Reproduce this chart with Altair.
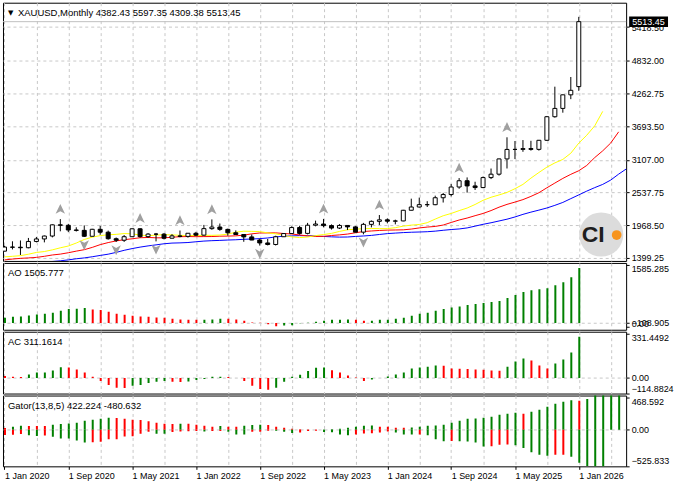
import json
import altair as alt
import pandas as pd

FONT = "Liberation Sans"
GREEN = "#008000"
RED = "#ff0000"
GRID = "#c8c8c8"

symbol = "XAUUSD,Monthly"
tick_labels = ["1 Jan 2020", "1 Sep 2020", "1 May 2021", "1 Jan 2022", "1 Sep 2022",
               "1 May 2023", "1 Jan 2024", "1 Sep 2024", "1 May 2025", "1 Jan 2026"]

# Monthly OHLC, Jan 2020 .. Jan 2026
opens = [1517.3, 1589.2, 1586.0, 1577.2, 1686.5, 1730.3, 1780.9, 1975.9, 1967.8, 1886.0, 1879.4, 1776.6,
         1898.4, 1847.7, 1734.0, 1707.7, 1769.1, 1906.9, 1770.4, 1814.2, 1813.6, 1742.9, 1783.3, 1774.4,
         1829.2, 1796.3, 1909.6, 1937.4, 1896.9, 1837.4, 1807.3, 1765.9, 1711.0, 1660.6, 1633.6, 1768.5,
         1824.0, 1928.4, 1826.9, 1969.3, 1990.0, 1962.6, 1919.4, 1965.1, 1940.2, 1848.6, 1983.9, 2036.4,
         2062.6, 2039.5, 2043.9, 2229.7, 2286.3, 2327.3, 2326.5, 2447.6, 2503.4, 2634.6, 2743.6, 2653.4,
         2624.6, 2798.4, 2857.8, 3123.6, 3288.7, 3289.4, 3303.1, 3289.9, 3447.9, 3858.3, 4002.9, 4239.4,
         4382.43]
highs = [1611.3, 1689.3, 1703.4, 1747.7, 1765.4, 1789.2, 1983.8, 2075.1, 1992.5, 1933.3, 1965.6, 1906.3,
         1959.3, 1875.4, 1755.6, 1798.2, 1912.9, 1916.8, 1832.7, 1834.1, 1834.0, 1813.8, 1877.2, 1831.6,
         1853.9, 1974.4, 2070.4, 1998.4, 1909.8, 1879.4, 1814.3, 1807.9, 1735.2, 1729.5, 1786.3, 1833.0,
         1949.3, 1959.7, 2009.7, 2048.8, 2079.6, 1983.5, 1987.5, 1966.1, 1953.1, 2009.3, 2052.1, 2146.8,
         2088.5, 2065.6, 2236.5, 2431.5, 2450.1, 2387.8, 2483.6, 2531.6, 2685.6, 2790.2, 2801.6, 2726.1,
         2817.2, 2956.2, 3128.0, 3500.1, 3435.5, 3451.9, 3439.0, 3453.9, 3871.6, 4381.3, 4245.3, 4549.7,
         5597.35]
lows = [1517.0, 1547.8, 1451.0, 1567.0, 1670.6, 1670.6, 1757.5, 1863.2, 1848.8, 1859.9, 1764.5, 1775.7,
        1802.8, 1717.2, 1676.9, 1678.3, 1765.5, 1750.8, 1750.1, 1687.7, 1721.7, 1740.0, 1758.9, 1753.4,
        1780.5, 1786.0, 1890.0, 1872.1, 1787.0, 1805.2, 1681.0, 1709.7, 1614.9, 1617.3, 1616.7, 1765.2,
        1823.7, 1804.7, 1809.5, 1949.4, 1932.2, 1893.1, 1902.8, 1884.9, 1846.0, 1810.5, 1931.7, 1973.1,
        2001.9, 1984.2, 2038.4, 2228.0, 2277.2, 2286.7, 2318.0, 2364.4, 2471.8, 2604.1, 2536.7, 2583.0,
        2614.6, 2772.5, 2833.0, 2956.9, 3120.8, 3247.6, 3268.1, 3268.3, 3436.2, 3842.0, 3928.6, 4164.0,
        4309.38]
closes = [1589.2, 1585.7, 1577.2, 1686.5, 1730.3, 1780.9, 1975.9, 1967.8, 1886.0, 1879.4, 1776.6, 1898.4,
          1847.7, 1734.0, 1707.7, 1769.1, 1906.9, 1770.4, 1814.2, 1813.6, 1742.9, 1783.3, 1774.4, 1829.2,
          1796.3, 1909.6, 1937.4, 1896.9, 1837.4, 1807.3, 1765.9, 1711.0, 1660.6, 1633.6, 1768.5, 1824.0,
          1928.4, 1826.9, 1969.3, 1990.0, 1962.6, 1919.4, 1965.1, 1940.2, 1848.6, 1983.9, 2036.4, 2062.6,
          2039.5, 2043.9, 2229.7, 2286.3, 2327.3, 2326.5, 2447.6, 2503.4, 2634.6, 2743.6, 2653.4, 2624.6,
          2798.4, 2857.8, 3123.6, 3288.7, 3289.4, 3303.1, 3289.9, 3447.9, 3858.3, 4002.9, 4239.4, 4318.0,
          5513.45]

# Alligator lines (already shifted onto the bar index)
lips = [1418, 1428, 1439, 1464, 1495, 1511, 1540, 1576, 1607, 1659, 1721, 1761, 1788, 1803, 1810, 1824,
        1819, 1798, 1786, 1797, 1804, 1801, 1793, 1790, 1788, 1794, 1793, 1798, 1814, 1848, 1865, 1862,
        1858, 1836, 1820, 1791, 1767, 1754, 1763, 1788, 1806, 1827, 1861, 1890, 1900, 1909, 1912, 1910,
        1910, 1926, 1953, 1971, 1982, 2013, 2076, 2134, 2174, 2223, 2268, 2330, 2403, 2456, 2496, 2540,
        2605, 2680, 2789, 2887, 2980, 3054, 3115, 3223, 3399, 3536, 3700, 3951]
teeth = [1365, 1380, 1392, 1400, 1409, 1428, 1451, 1466, 1490, 1518, 1543, 1583, 1631, 1667, 1696, 1717,
         1733, 1751, 1756, 1750, 1749, 1760, 1769, 1772, 1770, 1771, 1772, 1778, 1780, 1784, 1796, 1819,
         1834, 1835, 1836, 1825, 1817, 1799, 1783, 1773, 1776, 1790, 1801, 1815, 1838, 1859, 1869, 1878,
         1884, 1886, 1889, 1902, 1922, 1937, 1948, 1972, 2017, 2060, 2094, 2135, 2174, 2224, 2283, 2332,
         2372, 2415, 2471, 2535, 2621, 2703, 2784, 2855, 2918, 3010, 3147, 3264, 3400, 3595]
jaw = [1265, 1272, 1283, 1298, 1313, 1327, 1338, 1349, 1366, 1385, 1400, 1420, 1443, 1465, 1496, 1532,
       1562, 1588, 1609, 1627, 1646, 1658, 1662, 1668, 1681, 1693, 1700, 1705, 1711, 1716, 1724, 1729,
       1736, 1747, 1765, 1778, 1783, 1788, 1785, 1783, 1774, 1767, 1762, 1764, 1774, 1782, 1792, 1808,
       1823, 1832, 1841, 1847, 1851, 1856, 1866, 1881, 1894, 1904, 1922, 1953, 1985, 2012, 2043, 2074,
       2113, 2158, 2197, 2232, 2269, 2315, 2366, 2432, 2497, 2563, 2624, 2680, 2755, 2859, 2953, 3061]

ao = [144, 171, 180, 207, 234, 252, 279, 333, 387, 390, 414, 369, 360, 306, 252, 225, 198, 180, 171, 153,
      144, 117, 99, 90, 88, 92, 99, 120, 117, 95, 63, 15, 8, -30, -85, -70, -60, -8, 5, 36,
      63, 90, 92, 95, 88, 63, 66, 90, 92, 117, 144, 198, 252, 279, 333, 387, 423, 450, 495, 521,
      548, 575, 602, 683, 764, 845, 899, 926, 953, 1034, 1115, 1250, 1505.777]
ac = [15, 8, 7, 25, 40, 41, 55, 80, 78, 63, 40, 8, -23, -53, -75, -76, -60, -53, -38, -30,
      -23, -30, -31, -28, -15, -8, 8, 9, 7, -1, -23, -60, -83, -90, -75, -30, 8, 23, 53, 77,
      79, 58, 40, 18, 3, -23, -13, 0, 10, 25, 40, 70, 78, 85, 93, 92, 70, 69, 68, 63,
      62, 55, 54, 85, 123, 146, 131, 93, 70, 108, 138, 191, 311.1614]
gator_up = [24, 43, 58, 56, 55, 54, 72, 85, 90, 101, 130, 145, 159, 174, 172, 159, 145, 140, 125, 101,
            87, 85, 88, 86, 72, 58, 45, 55, 45, 42, 58, 70, 74, 70, 45, 30, 16, 6, 4, 3,
            4, 6, 14, 29, 43, 58, 60, 45, 42, 30, 28, 32, 43, 58, 60, 72, 101, 130, 159, 162,
            174, 188, 217, 232, 246, 232, 261, 290, 333, 377, 406, 430, 422.224, 447, 523, 584, 645, 736]
gator_dn = [77, 72, 63, 82, 92, 85, 101, 126, 128, 155, 184, 182, 175, 140, 138, 97, 95, 58, 30, 58,
            60, 34, 24, 22, 19, 24, 19, 18, 30, 68, 70, 29, 28, 14, 15, 29, 48, 40, 20, 14,
            34, 36, 68, 82, 68, 53, 50, 39, 24, 39, 68, 70, 68, 82, 140, 169, 165, 169, 172, 184,
            242, 240, 220, 215, 227, 266, 328, 362, 377, 365, 362, 391, 480.632, 526, 553, 687]

fractal_up_idx = [7, 17, 22, 26, 40, 47, 57, 63]
fractal_dn_idx = [10, 14, 19, 32, 45]

price_ticks = [1399.25, 1968.50, 2537.75, 3107.00, 3693.50, 4262.75, 4832.00, 5418.50]
ao_ticks = [1585.285, 0, -108.905]
ac_ticks = [331.4492, 0, -114.8824]
gator_ticks = [468.592, 0, -525.833]


def signed_colors(vals, first):
    out = [first]
    for k in range(1, len(vals)):
        out.append(GREEN if vals[k] >= vals[k - 1] else RED)
    return out


def abs_colors(vals, first):
    out = [first]
    for k in range(1, len(vals)):
        out.append(GREEN if abs(vals[k]) >= abs(vals[k - 1]) else RED)
    return out


n = len(closes)
candles = pd.DataFrame({"i": list(range(n)), "o": opens, "h": highs, "l": lows, "c": closes})
candles["fill"] = ["white" if c >= o else "black" for o, c in zip(opens, closes)]

lips_df = pd.DataFrame({"i": list(range(len(lips))), "v": lips})
teeth_df = pd.DataFrame({"i": list(range(len(teeth))), "v": teeth})
jaw_df = pd.DataFrame({"i": list(range(len(jaw))), "v": jaw})
fup_df = pd.DataFrame({"i": fractal_up_idx, "v": [highs[k] for k in fractal_up_idx]})
fdn_df = pd.DataFrame({"i": fractal_dn_idx, "v": [lows[k] for k in fractal_dn_idx]})
bid_df = pd.DataFrame({"v": [closes[-1]], "t": [f"{closes[-1]:.2f}"]})

ao_df = pd.DataFrame({"i": list(range(len(ao))), "v": ao, "col": signed_colors(ao, GREEN)})
ac_df = pd.DataFrame({"i": list(range(len(ac))), "v": ac, "col": signed_colors(ac, RED)})
gu_df = pd.DataFrame({"i": list(range(len(gator_up))), "v": gator_up, "col": abs_colors(gator_up, RED)})
gd_df = pd.DataFrame({"i": list(range(len(gator_dn))), "v": [-v for v in gator_dn],
                      "col": abs_colors(gator_dn, RED)})

W = 625
XDOM = [-0.1875, 77.9375]
grid_vals = list(range(0, 77, 4))


def X(bottom=False):
    if bottom:
        label_expr = ("datum.value % 8 == 0 ? " + json.dumps(tick_labels) +
                      "[round(datum.value / 8)] : ''")
        axis = alt.Axis(values=grid_vals, grid=True, labels=True, ticks=True, tickSize=3,
                        tickOpacity={"condition": {"test": "datum.value % 8 == 0", "value": 1}, "value": 0},
                        labelExpr=label_expr, labelAlign="left", labelPadding=2, labelOverlap=False,
                        labelFlush=False, domain=False, title=None)
    else:
        axis = alt.Axis(values=grid_vals, grid=True, labels=False, ticks=False, domain=False, title=None)
    return alt.X("i:Q", scale=alt.Scale(domain=XDOM, nice=False, zero=False, padding=0), axis=axis)


zero_grid = {"condition": {"test": "datum.value == 0", "value": 1}, "value": 0}
baseline_cond = {"condition": [{"test": "datum.value > 0", "value": "top"},
                               {"test": "datum.value < 0", "value": "bottom"}],
                 "value": "middle"}

main_scale = alt.Scale(domain=[1347.2, 5843.4], nice=False, zero=False, padding=0)
main_axis = alt.Axis(orient="right", values=price_ticks, format=".2f", grid=True, tickSize=3,
                     labelPadding=2, labelOverlap=False, domain=False, title=None)


def YM(field):
    return alt.Y(field, type="quantitative", scale=main_scale, axis=main_axis)


one = pd.DataFrame({"a": [0]})
BOX = "M-1,-0.27L1,-0.27L1,0.27L-1,0.27Z"
UP = "M0,-1L0.9,0.9L0,0.4L-0.9,0.9Z"
DN = "M0,1L0.9,-0.9L0,-0.4L-0.9,-0.9Z"

logo_circle = alt.Chart(one).mark_point(shape="circle", filled=True, size=1963, color="#dcdcdc",
                                        opacity=1, strokeWidth=0).encode(x=alt.value(600), y=alt.value(232.5))
logo_text = alt.Chart(one).mark_text(font=FONT, fontSize=23, fontWeight="bold", color="#1e1e1e",
                                     align="center", baseline="middle").encode(
    x=alt.value(592), y=alt.value(233), text=alt.value("CI"))
logo_dot = alt.Chart(one).mark_point(shape="circle", filled=True, size=95, color="#f7941d",
                                     opacity=1, strokeWidth=0).encode(x=alt.value(615.5), y=alt.value(233))

bid = alt.Chart(bid_df).mark_rule(color="#c0c0c0", strokeWidth=1).encode(y=YM("v"))
jaw_l = alt.Chart(jaw_df).mark_line(color="#0000ff", strokeWidth=1, clip=True).encode(x=X(), y=YM("v"))
teeth_l = alt.Chart(teeth_df).mark_line(color="#ff0000", strokeWidth=1, clip=True).encode(x=X(), y=YM("v"))
lips_l = alt.Chart(lips_df).mark_line(color="#ffff00", strokeWidth=1, clip=True).encode(x=X(), y=YM("v"))
wicks = alt.Chart(candles).mark_rule(color="black", strokeWidth=1, clip=True).encode(
    x=X(), y=YM("l"), y2=alt.Y2("h"))
bodies = alt.Chart(candles).mark_bar(size=4, stroke="black", strokeWidth=1, clip=True).encode(
    x=X(), y=YM("o"), y2=alt.Y2("c"), fill=alt.Fill("fill:N", scale=None))
fup = alt.Chart(fup_df).mark_point(shape=UP, size=110, filled=True, color="#a0a0a0", opacity=1,
                                   yOffset=-10, clip=True).encode(x=X(), y=YM("v"))
fdn = alt.Chart(fdn_df).mark_point(shape=DN, size=110, filled=True, color="#a0a0a0", opacity=1,
                                   yOffset=8, clip=True).encode(x=X(), y=YM("v"))
pbox = alt.Chart(bid_df).mark_point(shape=BOX, size=1521, filled=True, color="black", opacity=1,
                                    strokeWidth=0).encode(x=alt.value(647.5), y=YM("v"))
ptext = alt.Chart(bid_df).mark_text(color="white", font=FONT, fontSize=9, align="center",
                                    baseline="middle").encode(x=alt.value(647.5), y=YM("v"), text="t:N")
header_txt = f"{symbol}  {opens[-1]:.2f} {highs[-1]:.2f} {lows[-1]:.2f} {closes[-1]:.2f}"
tri = alt.Chart(one).mark_text(font="DejaVu Sans", fontSize=7, color="black", align="left",
                               baseline="middle").encode(x=alt.value(5), y=alt.value(10), text=alt.value("▼"))
header = alt.Chart(pd.DataFrame({"t": [header_txt]})).mark_text(
    font=FONT, fontSize=9.5, color="black", align="left", baseline="middle").encode(
    x=alt.value(15), y=alt.value(10), text="t:N")

main = alt.layer(logo_circle, logo_text, logo_dot, bid, jaw_l, teeth_l, lips_l, wicks, bodies,
                 fup, fdn, pbox, ptext, tri, header).properties(width=W, height=259)


def sub_panel(dfs, domain, ticks, fmt, title, height, bottom=False):
    scale = alt.Scale(domain=domain, nice=False, zero=False, padding=0)
    axis = alt.Axis(orient="right", values=ticks,
                    labelExpr=f"datum.value == 0 ? '0.00' : format(datum.value, '{fmt}')",
                    grid=True, gridOpacity=zero_grid, labelBaseline=baseline_cond,
                    labelOverlap=False, tickSize=3, labelPadding=2, domain=False, title=None)
    layers = []
    for df in dfs:
        layers.append(alt.Chart(df).mark_bar(size=2, xOffset=0.5, clip=True).encode(
            x=X(bottom), y=alt.Y("v:Q", scale=scale, axis=axis), y2=alt.Y2(datum=0),
            fill=alt.Fill("col:N", scale=None)))
    label = alt.Chart(pd.DataFrame({"t": [title]})).mark_text(
        font=FONT, fontSize=9.5, color="black", align="left", baseline="middle").encode(
        x=alt.value(5), y=alt.value(10), text="t:N")
    return alt.layer(*layers, label).properties(width=W, height=height)


ao_panel = sub_panel([ao_df], [-182.4, 1642], ao_ticks, ".3f", f"AO {ao[-1]:.3f}", 67)
ac_panel = sub_panel([ac_df], [-118.2, 348.6], ac_ticks, ".4f", f"AC {ac[-1]:.4f}", 62)
gator_panel = sub_panel([gu_df, gd_df], [-532, 497], gator_ticks, ".3f",
                        f"Gator(13,8,5) {gator_up[72]:.3f} {-gator_dn[72]:.3f}", 71, bottom=True)

chart = alt.vconcat(main, ao_panel, ac_panel, gator_panel, spacing=2, bounds="flush").configure_view(
    stroke="black", strokeWidth=1
).configure_axis(
    labelFont=FONT, labelFontSize=9, labelColor="black", tickColor="black",
    gridColor=GRID, gridDash=[3, 3], gridWidth=1
).properties(
    padding={"left": 2, "top": 1, "right": 0, "bottom": 0}, background="white"
)

chart.save("out.html", embed_options={"renderer": "svg", "actions": False})
